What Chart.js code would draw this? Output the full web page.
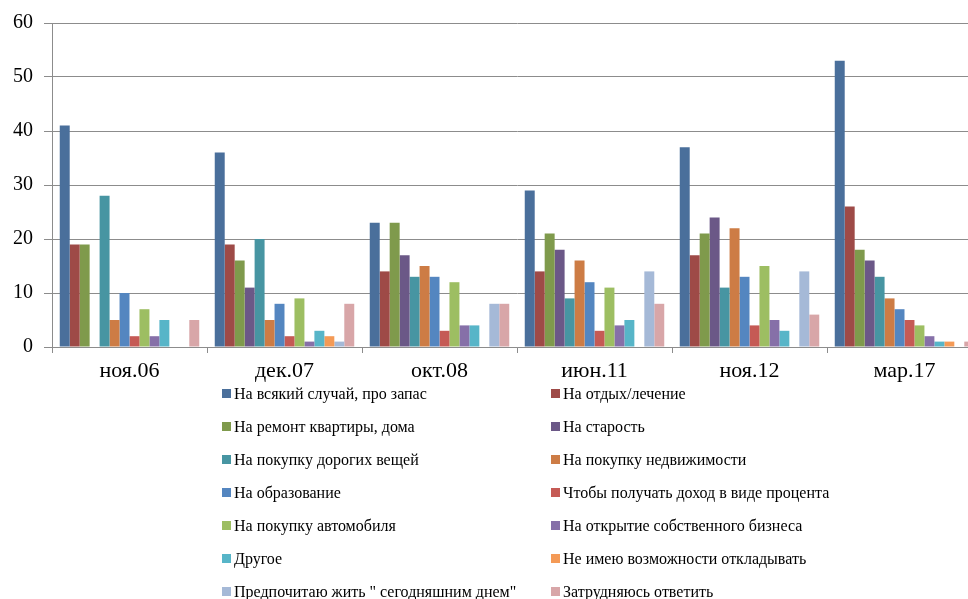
<!DOCTYPE html>
<html>
<head>
<meta charset="utf-8">
<script src="https://cdn.jsdelivr.net/npm/chart.js@4"></script>
<style>
  body { margin: 0; background: #fff; overflow: hidden; width: 968px; height: 599px; position: relative; }
  #box { position: absolute; left: 0; top: 0; width: 990px; height: 385px; }
  #legend { position: absolute; left: 222px; top: 377px; display: grid;
    grid-template-columns: 329px 360px; grid-auto-rows: 33px;
    font-family: "Liberation Serif", serif; font-size: 16px; color: #000; }
  #legend div { display: flex; align-items: center; white-space: nowrap; height: 33px; }
  #legend span.sw { width: 9px; height: 9px; margin-right: 3px; display: inline-block; }
</style>
</head>
<body>
<div id="box"><canvas id="c" width="990" height="385"></canvas></div>
<div id="legend"></div>
<script>
const categories = ["ноя.06", "дек.07", "окт.08", "июн.11", "ноя.12", "мар.17"];
const yTicks = [0, 10, 20, 30, 40, 50, 60];

const seriesNames = [
  "На всякий случай, про запас",
  "На отдых/лечение",
  "На ремонт квартиры, дома",
  "На старость",
  "На покупку дорогих вещей",
  "На покупку недвижимости",
  "На образование",
  "Чтобы получать доход в виде процента",
  "На покупку автомобиля",
  "На открытие собственного бизнеса",
  "Другое",
  "Не имею возможности откладывать",
  "Предпочитаю жить \" сегодняшним днем\"",
  "Затрудняюсь ответить"
];

const zapas      = [41, 36, 23, 29, 37, 53];
const otdyh      = [19, 19, 14, 14, 17, 26];
const remont     = [19, 16, 23, 21, 21, 18];
const starost    = [0, 11, 17, 18, 24, 16];
const veshchi    = [28, 20, 13, 9, 11, 13];
const nedvizh    = [5, 5, 15, 16, 22, 9];
const obrazov    = [10, 8, 13, 12, 13, 7];
const procent    = [2, 2, 3, 3, 4, 5];
const avto       = [7, 9, 12, 11, 15, 4];
const biznes     = [2, 1, 4, 4, 5, 2];
const drugoe     = [5, 3, 4, 5, 3, 1];
const neImeyu    = [0, 2, 0, 0, 0, 1];
const segodnya   = [0, 1, 8, 14, 14, 0];
const zatrudn    = [5, 8, 8, 8, 6, 1];

const seriesValues = [zapas, otdyh, remont, starost, veshchi, nedvizh, obrazov,
  procent, avto, biznes, drugoe, neImeyu, segodnya, zatrudn];

const colors = ["#4a6f9b", "#9e4a47", "#7f9a4c", "#6b5887", "#4795a2", "#cd7c45", "#5486c0",
  "#c55a55", "#9dbe62", "#8670a8", "#57b5c8", "#f49a56", "#a5b9d7", "#d8a6a8"];

const serif = "'Liberation Serif', 'Times New Roman', serif";

new Chart(document.getElementById("c"), {
  type: "bar",
  data: {
    labels: categories,
    datasets: seriesNames.map((name, i) => ({
      label: name,
      data: seriesValues[i],
      backgroundColor: colors[i],
      borderWidth: 0,
      categoryPercentage: 0.9,
      barPercentage: 1.0
    }))
  },
  options: {
    responsive: false,
    animation: false,
    layout: { padding: { top: 23, left: 0, right: 8, bottom: 0 } },
    plugins: { legend: { display: false }, tooltip: { enabled: false } },
    scales: {
      x: {
        grid: { drawOnChartArea: false, drawTicks: true, tickLength: 6, color: "#8c8c8c", offset: true },
        border: { color: "#8c8c8c" },
        ticks: { color: "#000", font: { family: serif, size: 22 }, padding: 5, maxRotation: 0 },
        afterFit: s => { s.height = 38; }
      },
      y: {
        min: 0, max: 60,
        afterBuildTicks: s => { s.ticks = yTicks.map(v => ({ value: v })); },
        grid: { color: "#8c8c8c", tickLength: 8 },
        border: { color: "#8c8c8c" },
        ticks: { color: "#000", font: { family: serif, size: 20 }, padding: 11 },
        afterFit: s => { s.width = 52; }
      }
    }
  }
});

const leg = document.getElementById("legend");
seriesNames.forEach((name, i) => {
  const d = document.createElement("div");
  d.innerHTML = '<span class="sw" style="background:' + colors[i] + '"></span>';
  d.appendChild(document.createTextNode(name));
  leg.appendChild(d);
});
</script>
</body>
</html>
